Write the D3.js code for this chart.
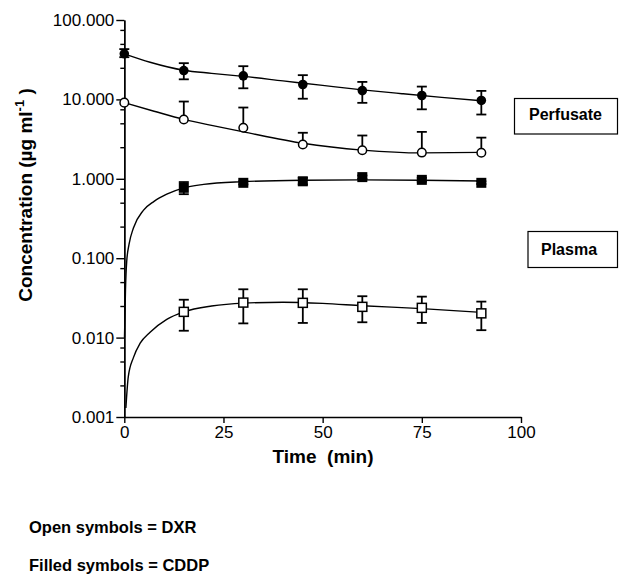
<!DOCTYPE html>
<html>
<head>
<meta charset="utf-8">
<script src="https://cdn.jsdelivr.net/npm/d3@7"></script>
<style>
  body{margin:0;background:#fff;}
  svg{display:block;font-family:"Liberation Sans",Arial,sans-serif;}
  .axis path,.axis line{stroke:#000;stroke-width:1.4;}
  .axis text{font-size:17px;fill:#000;}
</style>
</head>
<body>
<svg id="chart" width="620" height="575"></svg>
<script>
// sample times (min)
const times=[0,15,30,45,60,75,90];
const plasmaTimes=[15,30,45,60,75,90];

// CDDP perfusate (filled circles)
const cddpPerf=[37.5,23.1,19.8,15.4,12.9,11.2,9.7];
const cddpPerfHi=[43,28.6,26.2,20.2,16.6,14.5,12.8];
const cddpPerfLo=[34,17.9,13.8,10.2,9.05,7.5,6.45];

// DXR perfusate (open circles), upper bars only
const dxrPerf=[9.1,5.58,4.39,2.70,2.29,2.14,2.13];
const dxrPerfHi=[null,9.4,7.9,3.8,3.51,3.9,3.3];

// CDDP plasma (filled squares)
const cddpPlasma=[0.77,0.89,0.93,1.05,0.97,0.89];
const cddpPlasmaHi=[0.91,0.93,1.03,1.10,1.03,0.93];
const cddpPlasmaLo=[0.64,0.85,0.85,1.00,0.92,0.86];

// DXR plasma (open squares)
const dxrPlasma=[0.0211,0.0276,0.0274,0.0244,0.0237,0.0202];
const dxrPlasmaHi=[0.030,0.0406,0.0406,0.0332,0.0328,0.0284];
const dxrPlasmaLo=[0.0122,0.0151,0.0153,0.0156,0.0153,0.0124];

// fitted curves
const cddpPerfCurveT=[0,6.5,15,22,30,40,50,60,70,80,90];
const cddpPerfCurveV=[37.5,29.4,23.3,21.3,19.5,17.1,15.0,13.2,11.8,10.6,9.6];
const dxrPerfCurveT=[0,7.5,15,22,30,45,60,75,90];
const dxrPerfCurveV=[9.1,7.1,5.6,4.7,3.9,2.8,2.3,2.12,2.15];
const cddpPlasmaCurveT=[0.05,0.3,0.6,1.2,2.3,4.8,7.5,10.7,15,20,30,45,60,75,90];
const cddpPlasmaCurveV=[0.01,0.04,0.09,0.15,0.24,0.40,0.52,0.64,0.77,0.85,0.92,0.96,0.97,0.96,0.94];
const dxrPlasmaCurveT=[0.4,1,2.3,4,6.5,10.7,15,22,30,40,50,60,75,90];
const dxrPlasmaCurveV=[0.0013,0.0032,0.0056,0.0085,0.0117,0.017,0.0211,0.025,0.0272,0.0279,0.027,0.0252,0.0232,0.0208];

const xTicks=[0,25,50,75,100];
const yTicks=[100,10,1,0.1,0.01,0.001];
const yMinor=[];
[0.001,0.01,0.1,1,10].forEach(d=>[2.5,5,7.5].forEach(k=>yMinor.push(d*k)));

const svg=d3.select("#chart");
const x=d3.scaleLinear().domain([0,100]).range([124.3,521]);
const y=d3.scaleLog().domain([0.001,100]).range([417,20]);

// axes
svg.append("g").attr("class","axis")
  .attr("transform","translate(124.3,0)")
  .call(d3.axisLeft(y).tickValues(yMinor).tickSize(4).tickSizeOuter(0).tickFormat(""));
svg.append("g").attr("class","axis")
  .attr("transform","translate(124.3,0)")
  .call(d3.axisLeft(y).tickValues(yTicks).tickSize(8).tickSizeOuter(0).tickPadding(2).tickFormat(d3.format(".3f")));
svg.append("g").attr("class","axis")
  .attr("transform","translate(0,417)")
  .call(d3.axisBottom(x).tickValues(xTicks).tickSize(6).tickSizeOuter(0).tickPadding(3));

// curves
const line=d3.line().x(d=>x(d[0])).y(d=>y(d[1])).curve(d3.curveMonotoneX);
[[cddpPerfCurveT,cddpPerfCurveV],[dxrPerfCurveT,dxrPerfCurveV],
 [cddpPlasmaCurveT,cddpPlasmaCurveV],[dxrPlasmaCurveT,dxrPlasmaCurveV]].forEach(([t,v])=>{
  svg.append("path")
    .datum(t.map((d,i)=>[d,v[i]]))
    .attr("fill","none").attr("stroke","#000").attr("stroke-width",1.4)
    .attr("d",line);
});

// error bars
function bars(ts,hi,lo,vals){
  const g=svg.append("g").attr("stroke","#000").attr("stroke-width",1.8);
  ts.forEach((t,i)=>{
    if(hi[i]==null) return;
    const top=hi[i], bot=lo?lo[i]:vals[i];
    g.append("line").attr("x1",x(t)).attr("x2",x(t)).attr("y1",y(top)).attr("y2",y(bot));
    g.append("line").attr("x1",x(t)-5).attr("x2",x(t)+5).attr("y1",y(top)).attr("y2",y(top));
    if(lo) g.append("line").attr("x1",x(t)-5).attr("x2",x(t)+5).attr("y1",y(bot)).attr("y2",y(bot));
  });
}
bars(times,cddpPerfHi,cddpPerfLo,cddpPerf);
bars(times,dxrPerfHi,null,dxrPerf);
bars(plasmaTimes,cddpPlasmaHi,cddpPlasmaLo,cddpPlasma);
bars(plasmaTimes,dxrPlasmaHi,dxrPlasmaLo,dxrPlasma);

// symbols
svg.selectAll(".fc").data(times).join("circle")
  .attr("cx",d=>x(d)).attr("cy",(d,i)=>y(cddpPerf[i])).attr("r",4.8)
  .attr("fill","#000");
svg.selectAll(".oc").data(times).join("circle")
  .attr("cx",d=>x(d)).attr("cy",(d,i)=>y(dxrPerf[i])).attr("r",4.3)
  .attr("fill","#fff").attr("stroke","#000").attr("stroke-width",1.5);
svg.selectAll(".fs").data(plasmaTimes).join("rect")
  .attr("x",d=>x(d)-5).attr("y",(d,i)=>y(cddpPlasma[i])-5).attr("width",10).attr("height",10)
  .attr("fill","#000");
svg.selectAll(".os").data(plasmaTimes).join("rect")
  .attr("x",d=>x(d)-4.5).attr("y",(d,i)=>y(dxrPlasma[i])-4.5).attr("width",9).attr("height",9)
  .attr("fill","#fff").attr("stroke","#000").attr("stroke-width",1.5);

// labels
svg.append("text")
  .attr("x",323).attr("y",463)
  .attr("text-anchor","middle")
  .attr("font-size","19px").attr("font-weight","bold")
  .attr("xml:space","preserve")
  .text("Time  (min)");

const yl=svg.append("text")
  .attr("transform","translate(32,195) rotate(-90)")
  .attr("text-anchor","middle")
  .attr("font-size","19px").attr("font-weight","bold");
yl.append("tspan").text("Concentration (\u00b5g ml");
yl.append("tspan").attr("dy",-8).attr("font-size","13px").text("-1");
yl.append("tspan").attr("dy",8).text(" )");

// boxes
svg.append("rect").attr("x",514.5).attr("y",98.5).attr("width",103).attr("height",35.5)
  .attr("fill","none").attr("stroke","#000").attr("stroke-width",1.2);
svg.append("text").attr("x",529).attr("y",120).attr("font-size","16px").attr("font-weight","bold").text("Perfusate");
svg.append("rect").attr("x",528).attr("y",231.5).attr("width",89.5).attr("height",36)
  .attr("fill","none").attr("stroke","#000").attr("stroke-width",1.2);
svg.append("text").attr("x",541).attr("y",254.5).attr("font-size","16px").attr("font-weight","bold").text("Plasma");

svg.append("text").attr("x",29).attr("y",533).attr("font-size","16.5px").attr("font-weight","bold").text("Open symbols = DXR");
svg.append("text").attr("x",29).attr("y",571).attr("font-size","16.5px").attr("font-weight","bold").text("Filled symbols = CDDP");
</script>
</body>
</html>
